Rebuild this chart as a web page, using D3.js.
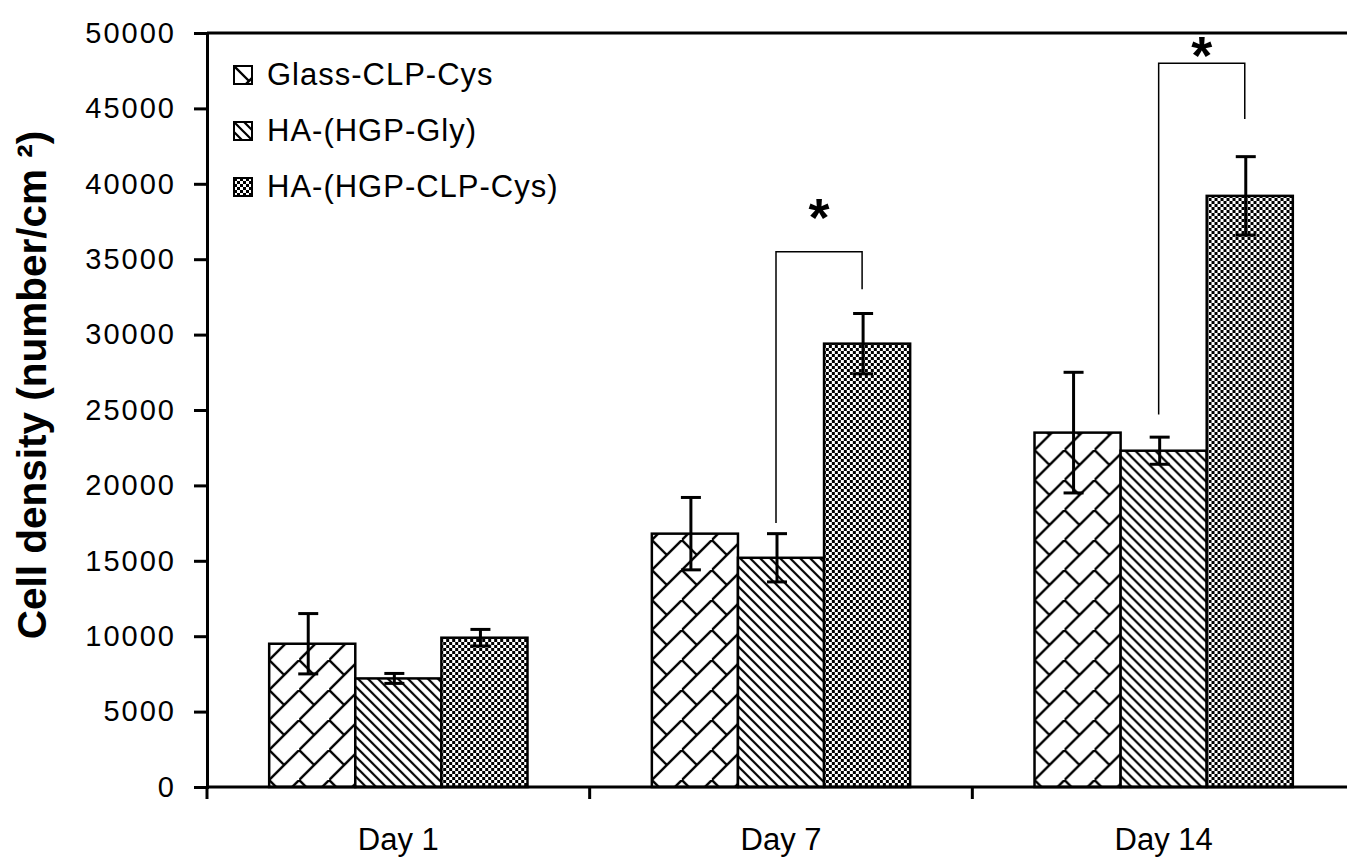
<!DOCTYPE html>
<html>
<head>
<meta charset="utf-8">
<script src="https://cdn.jsdelivr.net/npm/d3@7"></script>
<style>
  body { margin: 0; background: #fff; }
  svg { display: block; }
  text { font-family: 'Liberation Sans', Arial, sans-serif; fill: #000; }
</style>
</head>
<body>
<script>
// chart values
const days = ['Day 1', 'Day 7', 'Day 14']
const groups = ['Glass-CLP-Cys', 'HA-(HGP-Gly)', 'HA-(HGP-CLP-Cys)']
const glassMean = [9500, 16800, 23500]
const glassErr = [2000, 2400, 4000]
const glyMean = [7200, 15200, 22300]
const glyErr = [330, 1600, 900]
const clpMean = [9900, 29400, 39200]
const clpErr = [550, 2000, 2600]
const yTicks = [0, 5000, 10000, 15000, 20000, 25000, 30000, 35000, 40000, 45000, 50000]

// significance brackets (Gly vs CLP-Cys)
const sigDays = ['Day 7', 'Day 14']
const sigTop = [35500, 48000]
const sigLeftEnd = [17500, 24700]
const sigRightEnd = [33000, 44300]
const sigStar = [38500, 49300]

const W = 1347, H = 857
const margin = {top: 33, left: 207, bottom: 70}
const plotRight = 1355

const svg = d3.select('body').append('svg')
  .attr('width', W)
  .attr('height', H)

// fill patterns
const defs = svg.append('defs')

const brick = defs.append('pattern')
  .attr('id', 'brick')
  .attr('patternUnits', 'userSpaceOnUse')
  .attr('width', 30).attr('height', 30)
brick.append('rect').attr('width', 30).attr('height', 30).attr('fill', '#fff')
brick.append('path')
  .attr('d', 'M-2,32 L32,-2 M0,0 L15,15')
  .attr('stroke', '#000').attr('stroke-width', 2.4).attr('fill', 'none')

const stripe = defs.append('pattern')
  .attr('id', 'stripe')
  .attr('patternUnits', 'userSpaceOnUse')
  .attr('width', 10).attr('height', 10)
stripe.append('rect').attr('width', 10).attr('height', 10).attr('fill', '#fff')
stripe.append('path')
  .attr('d', 'M-2,-2 L12,12 M-2,8 L2,12 M8,-2 L12,2')
  .attr('stroke', '#000').attr('stroke-width', 2.2).attr('fill', 'none')

const checker = defs.append('pattern')
  .attr('id', 'checker')
  .attr('patternUnits', 'userSpaceOnUse')
  .attr('width', 6).attr('height', 6)
checker.append('rect').attr('width', 6).attr('height', 6).attr('fill', '#fff')
checker.append('rect').attr('width', 3).attr('height', 3).attr('fill', '#000')
checker.append('rect').attr('x', 3).attr('y', 3).attr('width', 3).attr('height', 3).attr('fill', '#000')

const fills = ['url(#brick)', 'url(#stripe)', 'url(#checker)']

// scales
const x0 = d3.scaleBand()
  .domain(days)
  .range([margin.left, plotRight])
  .paddingInner(0.325)
  .paddingOuter(0.1625)

const x1 = d3.scaleBand()
  .domain(groups)
  .range([0, x0.bandwidth()])

const y = d3.scaleLinear()
  .domain([0, 50000])
  .range([H - margin.bottom, margin.top])

const rows = days.map((d, i) => ({
  day: d,
  vals: [
    {g: groups[0], v: glassMean[i], e: glassErr[i]},
    {g: groups[1], v: glyMean[i], e: glyErr[i]},
    {g: groups[2], v: clpMean[i], e: clpErr[i]}
  ]
}))

// plot frame (top border)
svg.append('line')
  .attr('x1', margin.left).attr('x2', plotRight)
  .attr('y1', y(50000)).attr('y2', y(50000))
  .attr('stroke', '#000').attr('stroke-width', 3)

// bars
const grp = svg.selectAll('.grp')
  .data(rows)
  .enter().append('g')
  .attr('class', 'grp')
  .attr('transform', d => 'translate(' + x0(d.day) + ',0)')

grp.selectAll('rect')
  .data(d => d.vals)
  .enter().append('rect')
  .attr('x', d => x1(d.g))
  .attr('y', d => y(d.v))
  .attr('width', x1.bandwidth())
  .attr('height', d => y(0) - y(d.v))
  .attr('fill', (d, i) => fills[i])
  .attr('stroke', '#000')
  .attr('stroke-width', 2.5)

// error bars
const eb = grp.selectAll('.eb')
  .data(d => d.vals)
  .enter().append('g')
  .attr('class', 'eb')
  .attr('transform', d => 'translate(' + (x1(d.g) + x1.bandwidth() / 2 - 4) + ',0)')

eb.append('line')
  .attr('y1', d => y(d.v + d.e)).attr('y2', d => y(d.v - d.e))
  .attr('stroke', '#000').attr('stroke-width', 3)
eb.append('line')
  .attr('x1', -10).attr('x2', 10)
  .attr('y1', d => y(d.v + d.e)).attr('y2', d => y(d.v + d.e))
  .attr('stroke', '#000').attr('stroke-width', 3)
eb.append('line')
  .attr('x1', -10).attr('x2', 10)
  .attr('y1', d => y(d.v - d.e)).attr('y2', d => y(d.v - d.e))
  .attr('stroke', '#000').attr('stroke-width', 3)

// significance brackets
sigDays.forEach((d, i) => {
  const xl = x0(d) + x1(groups[1]) + x1.bandwidth() / 2 - 5
  const xr = x0(d) + x1(groups[2]) + x1.bandwidth() / 2 - 5
  svg.append('path')
    .attr('d', 'M' + xl + ',' + y(sigLeftEnd[i]) + 'V' + y(sigTop[i]) +
      'H' + xr + 'V' + y(sigRightEnd[i]))
    .attr('fill', 'none')
    .attr('stroke', '#000')
    .attr('stroke-width', 1.5)
  svg.append('text')
    .attr('x', (xl + xr) / 2)
    .attr('y', y(sigStar[i]) + 30)
    .attr('text-anchor', 'middle')
    .style('font-size', '54px')
    .style('font-weight', 'bold')
    .text('*')
})

// y axis
const yAxis = svg.append('g')
  .attr('transform', 'translate(' + margin.left + ',0)')
  .call(d3.axisLeft(y).tickValues(yTicks).tickFormat(d3.format('d'))
    .tickSize(13).tickPadding(20))
yAxis.select('.domain').attr('stroke-width', 3)
yAxis.selectAll('.tick line').attr('stroke-width', 3)
yAxis.selectAll('.tick text')
  .style('font-size', '29px')
  .style('letter-spacing', '2px')
  .attr('dx', 2)

// x axis: baseline, boundary ticks, day labels
svg.append('line')
  .attr('x1', margin.left).attr('x2', plotRight)
  .attr('y1', y(0)).attr('y2', y(0))
  .attr('stroke', '#000').attr('stroke-width', 3)

const bounds = days.map(d => x0(d) - x0.step() * x0.paddingInner() / 2)
bounds[0] = margin.left
svg.selectAll('.xtick')
  .data(bounds)
  .enter().append('line')
  .attr('class', 'xtick')
  .attr('x1', d => d).attr('x2', d => d)
  .attr('y1', y(0)).attr('y2', y(0) + 12)
  .attr('stroke', '#000').attr('stroke-width', 3)

svg.selectAll('.xlab')
  .data(days)
  .enter().append('text')
  .attr('class', 'xlab')
  .attr('x', d => x0(d) + x0.bandwidth() / 2)
  .attr('y', y(0) + 63)
  .attr('text-anchor', 'middle')
  .style('font-size', '31px')
  .text(d => d)

// y axis title
svg.append('text')
  .attr('transform', 'translate(46,' + 385 + ') rotate(-90)')
  .attr('text-anchor', 'middle')
  .style('font-size', '40.5px')
  .style('font-weight', 'bold')
  .text('Cell density (number/cm ²)')

// legend
const legend = svg.selectAll('.leg')
  .data(groups)
  .enter().append('g')
  .attr('class', 'leg')
  .attr('transform', (d, i) => 'translate(234,' + (66 + i * 56) + ')')

legend.append('rect')
  .attr('width', 18).attr('height', 18)
  .attr('fill', (d, i) => fills[i])
  .attr('stroke', '#000').attr('stroke-width', 2)

legend.append('text')
  .attr('x', 33)
  .attr('y', 19)
  .style('font-size', '31px')
  .style('letter-spacing', '1px')
  .text(d => d)
</script>
</body>
</html>
